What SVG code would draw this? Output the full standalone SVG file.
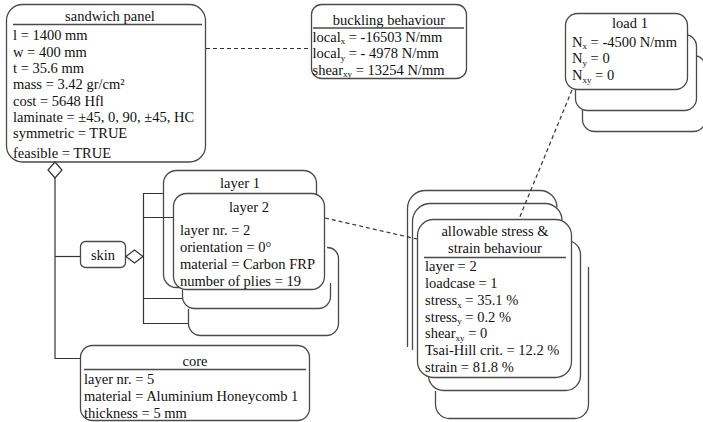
<svg xmlns="http://www.w3.org/2000/svg" width="703" height="422" viewBox="0 0 703 422">
<style>
.box{fill:#fff;stroke:#4a4a4a;stroke-width:1.3}
.sh{fill:none;stroke:#4a4a4a;stroke-width:1.3}
.sep{stroke:#4a4a4a;stroke-width:1.3}
.t{font-family:"Liberation Serif","Times New Roman",serif;font-size:14.5px;fill:#111}
.c{text-anchor:middle}
.sub{font-size:9px}
.con{fill:none;stroke:#333;stroke-width:1.2}
.dash{stroke-dasharray:4 3}
.dia{fill:#fff;stroke:#333;stroke-width:1.2}
</style>
<rect width="703" height="422" fill="#fff"/>

<g id="sandwich-panel">
<rect class="box" x="6.5" y="4.5" width="199" height="157.5" rx="16"/>
<text class="t c" x="110" y="21">sandwich panel</text>
<line class="sep" x1="13" y1="24.5" x2="202" y2="24.5"/>
<text class="t" x="13" y="40">l = 1400 mm</text>
<text class="t" x="13" y="56.5">w = 400 mm</text>
<text class="t" x="13" y="73">t = 35.6 mm</text>
<text class="t" x="13" y="89">mass = 3.42 gr/cm²</text>
<text class="t" x="13" y="105.5">cost = 5648 Hfl</text>
<text class="t" x="13" y="121.5">laminate = ±45, 0, 90, ±45, HC</text>
<text class="t" x="13" y="138">symmetric = TRUE</text>
<text class="t" x="13" y="158">feasible = TRUE</text>
</g>

<g id="buckling-behaviour">
<rect class="box" x="311.5" y="4.5" width="155" height="74" rx="10"/>
<text class="t c" x="389" y="24.5">buckling behaviour</text>
<line class="sep" x1="313" y1="28" x2="464" y2="28"/>
<text class="t" x="312.5" y="41.5">local<tspan class="sub" dy="2.5">x</tspan><tspan dy="-2.5"> = -16503 N/mm</tspan></text>
<text class="t" x="312.5" y="58">local<tspan class="sub" dy="2.5">y</tspan><tspan dy="-2.5"> = - 4978 N/mm</tspan></text>
<text class="t" x="312.5" y="74.5">shear<tspan class="sub" dy="2.5">xy</tspan><tspan dy="-2.5"> = 13254 N/mm</tspan></text>
</g>

<g id="load-1">
<rect class="box" x="582.5" y="55.5" width="123" height="76" rx="12"/>
<rect class="box" x="575.5" y="34.5" width="121" height="76" rx="12"/>
<rect class="box" x="565.5" y="13.5" width="122" height="76" rx="12"/>
<text class="t c" x="630" y="28">load 1</text>
<text class="t" x="572" y="46.5">N<tspan class="sub" dy="2.5">x</tspan><tspan dy="-2.5"> = -4500 N/mm</tspan></text>
<text class="t" x="572" y="63">N<tspan class="sub" dy="2.5">y</tspan><tspan dy="-2.5"> = 0</tspan></text>
<text class="t" x="572" y="80">N<tspan class="sub" dy="2.5">xy</tspan><tspan dy="-2.5"> = 0</tspan></text>
</g>

<g id="skin">
<rect class="box" x="80.5" y="241.5" width="45" height="26" rx="5"/>
<text class="t c" x="103" y="260">skin</text>
</g>

<g id="layer-1">
<rect class="box" x="163.5" y="170.5" width="153" height="117" rx="13"/>
<text class="t c" x="240" y="188">layer 1</text>
</g>

<g id="layer-stack">
<path class="sh" d="M327 247.5 A11 11 0 0 1 338.5 258.5 V323.5 A12 12 0 0 1 326.5 335.5 H200.5 A12 12 0 0 1 188.5 323.5 V309"/>
<path class="sh" d="M330.5 283 V296.5 A12 12 0 0 1 318.5 308.5 H194.5 A12 12 0 0 1 182.5 296.5 V290"/>
</g>

<g id="layer-2">
<rect class="box" x="173.5" y="193.5" width="151" height="96" rx="13"/>
<text class="t c" x="249" y="212">layer 2</text>
<text class="t" x="180" y="234.5">layer nr. = 2</text>
<text class="t" x="180" y="251.5">orientation = 0°</text>
<text class="t" x="180" y="268.5">material = Carbon FRP</text>
<text class="t" x="180" y="285.5">number of plies = 19</text>
</g>

<g id="core">
<rect class="box" x="80.5" y="345.5" width="229" height="75" rx="12"/>
<text class="t c" x="195" y="366">core</text>
<line class="sep" x1="84" y1="369.5" x2="306" y2="369.5"/>
<text class="t" x="84" y="384">layer nr. = 5</text>
<text class="t" x="84" y="401">material = Aluminium Honeycomb 1</text>
<text class="t" x="84" y="418">thickness = 5 mm</text>
</g>

<g id="allowable-stress">
<path class="sh" d="M407.5 347 V208.5 A18 18 0 0 1 425.5 190.5 H540 A17 17 0 0 1 557 207.5"/>
<path class="sh" d="M412.5 350 V221.5 A18 18 0 0 1 430.5 203.5 H545 A17 17 0 0 1 562 220.5"/>
<path class="sh" d="M572 241.5 A15 15 0 0 1 580.5 255 V375.5 A15 15 0 0 1 565.5 390.5 H443.5 A15 15 0 0 1 428.5 376"/>
<path class="sh" d="M588.5 267 V404.5 A14 14 0 0 1 574.5 418.5 H449.5 A14 14 0 0 1 435.5 404.5 V391"/>
<rect class="box" x="417.5" y="219.5" width="154" height="158" rx="16"/>
<text class="t c" x="495" y="236">allowable stress &amp;</text>
<text class="t c" x="495" y="253">strain behaviour</text>
<line class="sep" x1="424" y1="257.5" x2="566" y2="257.5"/>
<text class="t" x="425" y="271">layer = 2</text>
<text class="t" x="425" y="288">loadcase = 1</text>
<text class="t" x="425" y="305">stress<tspan class="sub" dy="2.5">x</tspan><tspan dy="-2.5"> = 35.1 %</tspan></text>
<text class="t" x="425" y="321.5">stress<tspan class="sub" dy="2.5">y</tspan><tspan dy="-2.5"> = 0.2 %</tspan></text>
<text class="t" x="425" y="338">shear<tspan class="sub" dy="2.5">xy</tspan><tspan dy="-2.5"> = 0</tspan></text>
<text class="t" x="425" y="355">Tsai-Hill crit. = 12.2 %</text>
<text class="t" x="425" y="372">strain = 81.8 %</text>
</g>

<g id="connectors">
<path class="con dash" d="M206 48.5 H311"/>
<path class="con dash" d="M572 90 L519 219"/>
<path class="con dash" d="M325 218 L417 239"/>
<path class="con" d="M55 178 V358.5 H80"/>
<path class="con" d="M55 256.5 H80"/>
<polygon class="dia" points="55,162 62,170 55,178 48,170"/>
<path class="con" d="M143.5 193 V323"/>
<path class="con" d="M143 193.5 H163 M143 217.5 H173 M143 298.5 H182 M143 323.5 H188"/>
<polygon class="dia" points="126,256.5 134.5,250 143,256.5 134.5,263"/>
</g>
</svg>
